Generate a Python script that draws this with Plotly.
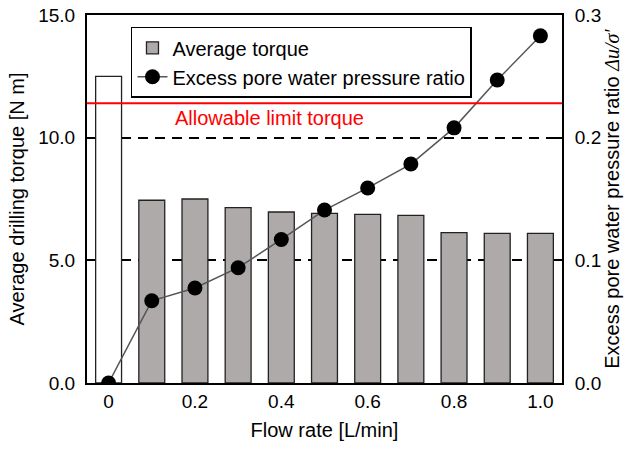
import plotly.graph_objects as go

# Flow rate of drilling fluid [L/min]
flow_rate = [0.0, 0.1, 0.2, 0.3, 0.4, 0.5, 0.6, 0.7, 0.8, 0.9, 1.0]
# Average drilling torque [N m]
avg_torque = [12.5, 7.45, 7.5, 7.15, 6.97, 6.91, 6.87, 6.83, 6.13, 6.1, 6.1]
# Excess pore water pressure ratio Δu/σ'
pore_ratio = [0.0, 0.067, 0.0775, 0.094, 0.117, 0.141, 0.159, 0.1785, 0.208, 0.247, 0.283]

allowable_torque = 11.4

x_tickvals = [0.0, 0.2, 0.4, 0.6, 0.8, 1.0]
x_ticktext = ["0", "0.2", "0.4", "0.6", "0.8", "1.0"]
y_tickvals = [0, 5, 10, 15]
y2_tickvals = [0, 0.1, 0.2, 0.3]

FONT = "Liberation Sans, Arial, sans-serif"
BAR_GRAY = "#aeaaaa"
EDGE = "#222222"

fig = go.Figure()

# Reference case without water (white bar, no legend entry)
fig.add_trace(go.Bar(
    x=flow_rate[:1], y=avg_torque[:1], width=0.06,
    marker=dict(color="white", line=dict(color=EDGE, width=1.3)),
    showlegend=False, yaxis="y",
))
# Cases with water injection
fig.add_trace(go.Bar(
    x=flow_rate[1:], y=avg_torque[1:], width=0.06,
    name="Average torque",
    marker=dict(color=BAR_GRAY, line=dict(color=EDGE, width=1.3)),
    yaxis="y",
))
fig.add_trace(go.Scatter(
    x=flow_rate, y=pore_ratio, mode="lines+markers",
    name="Excess pore water pressure ratio",
    line=dict(color="#555555", width=1.5),
    marker=dict(color="black", size=15),
    yaxis="y2",
))

# Allowable limit torque
fig.add_shape(type="line", xref="paper", x0=0, x1=1, yref="y",
              y0=allowable_torque, y1=allowable_torque,
              line=dict(color="#ff0000", width=2))
fig.add_annotation(xref="paper", x=0.181, yref="y", y=10.8,
                   text="Allowable limit torque", showarrow=False,
                   xanchor="left", yanchor="middle",
                   font=dict(family=FONT, size=20, color="#ff0000"))

fig.update_layout(
    width=625, height=451,
    margin=dict(l=87, r=63, t=15, b=68, autoexpand=False),
    paper_bgcolor="white", plot_bgcolor="white",
    barmode="overlay",
    font=dict(family=FONT, size=19, color="black"),
    showlegend=True,
    legend=dict(
        x=0.0926, y=0.968, xanchor="left", yanchor="top",
        bgcolor="white", bordercolor="black", borderwidth=1.5,
        font=dict(family=FONT, size=20, color="black"),
        tracegroupgap=0,
    ),
    xaxis=dict(
        range=[-0.05, 1.05], automargin=False,
        tickvals=x_tickvals, ticktext=x_ticktext,
        showgrid=False, zeroline=False,
        showline=True, linecolor="black", linewidth=2, mirror=True,
        ticks="",
        title=dict(text="Flow rate [L/min]", standoff=12,
                   font=dict(family=FONT, size=20)),
    ),
    yaxis=dict(
        range=[0, 15], tickvals=y_tickvals, tickformat=".1f", automargin=False,
        showgrid=True, gridcolor="black", gridwidth=2, griddash="10px,7px",
        zeroline=False,
        showline=True, linecolor="black", linewidth=2,
        ticks="inside", ticklen=7, tickwidth=1.5, tickcolor="black",
        ticklabelstandoff=6,
        title=dict(text="Average drilling torque [N m]", standoff=8,
                   font=dict(family=FONT, size=20)),
    ),
    yaxis2=dict(
        range=[0, 0.3], tickvals=y2_tickvals, tickformat=".1f", automargin=False,
        overlaying="y", side="right",
        showgrid=False, zeroline=False,
        showline=True, linecolor="black", linewidth=2,
        ticks="inside", ticklen=7, tickwidth=1.5, tickcolor="black",
        ticklabelstandoff=7,
        title=dict(
            text="Excess pore water pressure ratio "
                 "<span style=\"font-family:'Liberation Serif',serif\"><i>Δu/σ′</i></span>",
            standoff=4, font=dict(family=FONT, size=20),
        ),
    ),
)

fig.write_html("out.html")
